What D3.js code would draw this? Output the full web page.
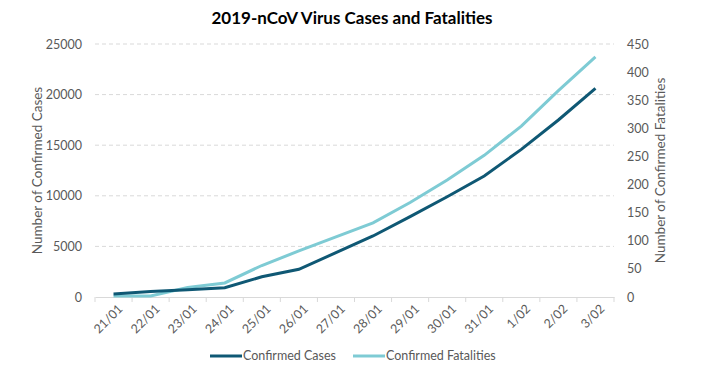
<!DOCTYPE html>
<html>
<head>
<meta charset="utf-8">
<script src="https://cdn.jsdelivr.net/npm/d3@7"></script>
<style>
  body { margin: 0; background: #fff; }
  svg text { font-family: Lato, "Open Sans", sans-serif; fill: #595959; }
</style>
</head>
<body>
<div id="chart"></div>
<script>
const dates = ['21/01', '22/01', '23/01', '24/01', '25/01', '26/01', '27/01',
               '28/01', '29/01', '30/01', '31/01', '1/02', '2/02', '3/02'];
const cases = [300, 540, 710, 920, 2000, 2740, 4380, 6030, 7940, 9910, 11960, 14590, 17490, 20620];
const fatalities = [2, 2, 17, 25, 56, 82, 107, 132, 168, 208, 252, 304, 367, 427];
const leftTicks = [0, 5000, 10000, 15000, 20000, 25000];
const rightTicks = [0, 50, 100, 150, 200, 250, 300, 350, 400, 450];

const width = 705, height = 375;
const margin = { top: 44, right: 91, bottom: 78, left: 95 };

const svg = d3.select('#chart').append('svg')
    .attr('width', width)
    .attr('height', height);

const x = d3.scaleBand()
    .domain(dates)
    .range([margin.left, width - margin.right]);

const yL = d3.scaleLinear().domain([0, 25000]).range([height - margin.bottom, margin.top]);
const yR = d3.scaleLinear().domain([0, 450]).range([height - margin.bottom, margin.top]);

// title
svg.append('text')
    .attr('x', 352).attr('y', 24)
    .attr('text-anchor', 'middle')
    .style('font-size', '17px').style('font-weight', 'bold').style('fill', '#000')
    .text('2019-nCoV Virus Cases and Fatalities');

// gridlines
svg.append('g').selectAll('line')
    .data(leftTicks.slice(1))
    .enter().append('line')
    .attr('x1', margin.left).attr('x2', width - margin.right)
    .attr('y1', d => yL(d)).attr('y2', d => yL(d))
    .attr('stroke', '#d9d9d9').attr('stroke-dasharray', '4,3');

// left axis labels
const leftAxis = svg.append('g')
    .attr('transform', `translate(${margin.left - 10},0)`)
    .call(d3.axisLeft(yL).tickValues(leftTicks).tickSize(0).tickFormat(d3.format('d')));
leftAxis.select('.domain').remove();
leftAxis.selectAll('text').style('font-size', '12.5px').style('fill', '#595959');

// right axis labels
const rightAxis = svg.append('g')
    .attr('transform', `translate(${width - margin.right + 10},0)`)
    .call(d3.axisRight(yR).tickValues(rightTicks).tickSize(0));
rightAxis.select('.domain').remove();
rightAxis.selectAll('text').style('font-size', '12.5px').style('fill', '#595959');

// x axis
const xAxis = svg.append('g')
    .attr('transform', `translate(0,${height - margin.bottom})`)
    .call(d3.axisBottom(x).tickSize(0).tickPadding(8));
xAxis.select('.domain').attr('stroke', '#d9d9d9');
xAxis.selectAll('text')
    .style('font-size', '12.5px').style('fill', '#595959')
    .attr('text-anchor', 'end')
    .attr('dx', '-2px').attr('dy', '8px')
    .attr('transform', 'rotate(-45)');

// x tick marks between categories
svg.append('g').selectAll('line')
    .data(dates.concat(['end']))
    .enter().append('line')
    .attr('x1', (d, i) => margin.left + i * x.step())
    .attr('x2', (d, i) => margin.left + i * x.step())
    .attr('y1', height - margin.bottom)
    .attr('y2', height - margin.bottom + 5)
    .attr('stroke', '#d9d9d9');

// axis titles
svg.append('text')
    .attr('transform', `translate(42,${(margin.top + height - margin.bottom) / 2}) rotate(-90)`)
    .attr('text-anchor', 'middle')
    .style('font-size', '13.5px')
    .text('Number of Confirmed Cases');

svg.append('text')
    .attr('transform', `translate(665,${(margin.top + height - margin.bottom) / 2}) rotate(-90)`)
    .attr('text-anchor', 'middle')
    .style('font-size', '13.5px')
    .text('Number of Confirmed Fatalities');

const cx = d => x(d) + x.bandwidth() / 2;

const caseLine = d3.line()
    .x((d, i) => cx(dates[i]))
    .y(d => yL(d));
const fatalLine = d3.line()
    .x((d, i) => cx(dates[i]))
    .y(d => yR(d));

svg.append('path')
    .datum(fatalities)
    .attr('d', fatalLine)
    .attr('fill', 'none').attr('stroke', '#7ecbd4').attr('stroke-width', 3);

svg.append('path')
    .datum(cases)
    .attr('d', caseLine)
    .attr('fill', 'none').attr('stroke', '#0f5874').attr('stroke-width', 3);

// legend
const legendItems = [
    { name: 'Confirmed Cases', color: '#0f5874', x: 210 },
    { name: 'Confirmed Fatalities', color: '#7ecbd4', x: 353 }
];
const lg = svg.append('g').selectAll('g')
    .data(legendItems)
    .enter().append('g')
    .attr('transform', d => `translate(${d.x},356)`);
lg.append('line')
    .attr('x1', 0).attr('x2', 32)
    .attr('stroke', d => d.color).attr('stroke-width', 3);
lg.append('text')
    .attr('x', 33).attr('dy', '0.35em')
    .style('font-size', '12.5px')
    .text(d => d.name);
</script>
</body>
</html>
